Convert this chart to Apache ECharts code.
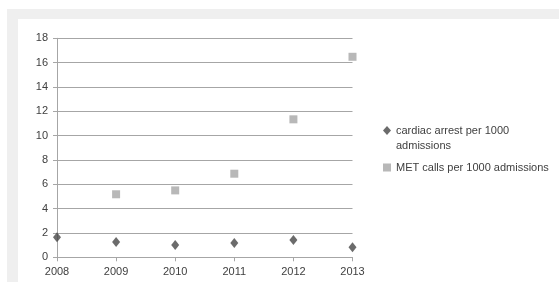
<!DOCTYPE html>
<html>
<head>
<meta charset="utf-8">
<script src="https://cdn.jsdelivr.net/npm/echarts@6/dist/echarts.min.js"></script>
<style>
  body { margin: 0; background: #fff; }
  .frame { position: absolute; left: 7px; top: 9px; width: 552px; height: 273px; background: #efefef; }
  .panel { position: absolute; left: 18px; top: 19px; width: 541px; height: 263px; background: #fff; }
  #chart { position: absolute; left: 0; top: 0; width: 559px; height: 282px; }
</style>
</head>
<body>
<div class="frame"></div>
<div class="panel"></div>
<div id="chart"></div>
<script>
// 年份
const years = ["2008", "2009", "2010", "2011", "2012", "2013"];
// cardiac arrest per 1000 admissions
const arrestRate = [1.64, 1.26, 1.01, 1.17, 1.42, 0.82];
// MET calls per 1000 admissions (2008 没有数据)
const metRate = [null, 5.18, 5.5, 6.87, 11.34, 16.48];

const arrestName = "cardiac arrest per 1000 admissions";
const metName = "MET calls per 1000 admissions";

const chart = echarts.init(document.getElementById("chart"));
const textColor = "#404040";
const font = "Liberation Sans";

chart.setOption({
  backgroundColor: "transparent",
  animation: false,
  textStyle: { fontFamily: font },
  grid: { left: 57, right: 206.5, top: 38.3, bottom: 24.7 },
  xAxis: {
    type: "category",
    data: years,
    boundaryGap: false,
    axisLine: { lineStyle: { color: "#a6a6a6", width: 1 } },
    axisTick: { length: 4, lineStyle: { color: "#a6a6a6" } },
    axisLabel: { color: textColor, fontSize: 11, margin: 9, fontFamily: font },
    splitLine: { show: false },
  },
  yAxis: {
    type: "value",
    min: 0,
    max: 18,
    interval: 2,
    axisLine: { show: true, lineStyle: { color: "#a6a6a6", width: 1 } },
    axisTick: { show: true, length: 4, lineStyle: { color: "#a6a6a6" } },
    axisLabel: { color: textColor, fontSize: 11, margin: 9, fontFamily: font },
    splitLine: { lineStyle: { color: "#a6a6a6", width: 1 } },
  },
  legend: [
    {
      data: [{ name: arrestName, icon: "diamond" }],
      left: 383,
      top: 125,
      padding: 0,
      itemWidth: 8,
      itemHeight: 9,
      formatter: () => "cardiac arrest per 1000",
      textStyle: { color: textColor, fontSize: 11, fontFamily: font },
      selectedMode: false,
    },
    {
      data: [{ name: metName, icon: "rect" }],
      left: 383,
      top: 162,
      padding: 0,
      itemWidth: 8,
      itemHeight: 8,
      textStyle: { color: textColor, fontSize: 11, fontFamily: font },
      selectedMode: false,
    },
  ],
  graphic: [
    {
      type: "text",
      left: 396,
      top: 140,
      style: { text: "admissions", fill: textColor, fontSize: 11, fontFamily: font },
    },
  ],
  series: [
    {
      name: arrestName,
      type: "scatter",
      symbol: "diamond",
      symbolSize: [8, 10],
      itemStyle: { color: "#464646" },
      data: arrestRate,
    },
    {
      name: metName,
      type: "scatter",
      symbol: "rect",
      symbolSize: 8,
      itemStyle: { color: "#a6a6a6" },
      data: metRate,
    },
  ],
});
</script>
</body>
</html>
